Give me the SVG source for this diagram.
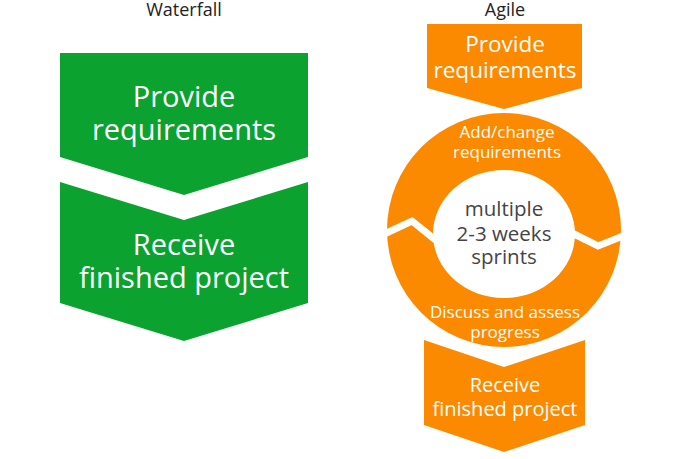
<svg xmlns="http://www.w3.org/2000/svg" width="700" height="459" viewBox="0 0 700 459">
<style>
text{font-family:"Open Sans","Liberation Sans",sans-serif;text-anchor:middle}
.g{fill:#0BA22F}
.o{fill:#FB8A00}
.w{fill:#ffffff}
.t{fill:#222222;font-size:18px}
.c{fill:#444444;font-size:20.5px}
.sep{fill:none;stroke:#ffffff;stroke-width:7;stroke-linejoin:miter}
</style>
<rect width="700" height="459" fill="#ffffff"/>
<text class="t" x="184" y="16">Waterfall</text>
<text class="t" x="505" y="16">Agile</text>
<g id="wf-provide">
<polygon class="g" points="60,53 308,53 308,157 184,195 60,157"/>
<text class="w" font-size="29" x="184" y="107">Provide</text>
<text class="w" font-size="29" x="184" y="140">requirements</text>
</g>
<g id="wf-receive">
<polygon class="g" points="60,182 184,220 308,182 308,303 184,341 60,303"/>
<text class="w" font-size="29" x="184" y="255">Receive</text>
<text class="w" font-size="29" x="184" y="288">finished project</text>
</g>
<g id="ag-provide">
<polygon class="o" points="427,24 582,24 582,88 504,109 427,88"/>
<text class="w" font-size="22.5" x="505" y="52">Provide</text>
<text class="w" font-size="22.5" x="505" y="78">requirements</text>
</g>
<g id="ag-receive">
<polygon class="o" points="424,340 504,367 585,340 585,425 504,452 424,425"/>
<text class="w" font-size="20" x="505" y="392">Receive</text>
<text class="w" font-size="20" x="505" y="416">finished project</text>
</g>
<g id="ag-cycle">
<path class="o" fill-rule="evenodd" d="M387,230 A117,117 0 1 1 621,230 A117,117 0 1 1 387,230 Z M433,234 A71,64 0 1 0 575,234 A71,64 0 1 0 433,234 Z"/>
<polyline class="sep" points="380,236 412,221 438,242"/>
<polyline class="sep" points="570,232 598,246 628,234"/>
<text class="w" font-size="17" x="507" y="138">Add/change</text>
<text class="w" font-size="17" x="507" y="158">requirements</text>
<text class="c" x="504" y="216">multiple</text>
<text class="c" x="504" y="241">2-3 weeks</text>
<text class="c" x="504" y="264">sprints</text>
<text class="w" font-size="17" x="505" y="318">Discuss and assess</text>
<text class="w" font-size="17" x="505" y="338">progress</text>
</g>
</svg>
